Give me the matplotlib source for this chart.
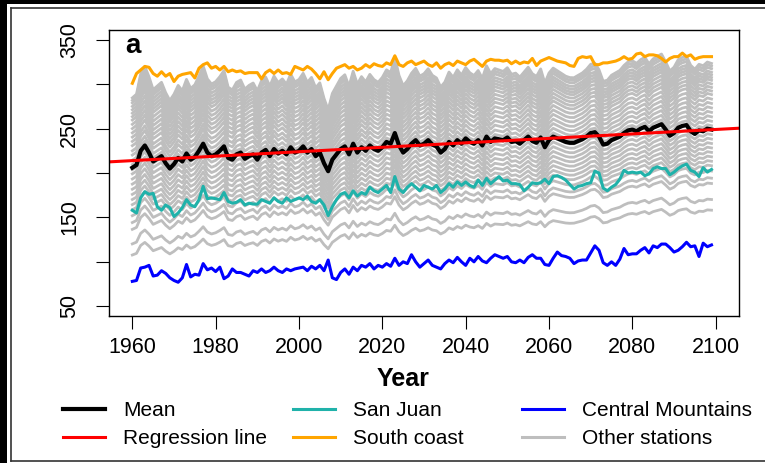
import numpy as np
import matplotlib
matplotlib.use("Agg")
import matplotlib.pyplot as plt
from matplotlib.lines import Line2D
from matplotlib.patches import Rectangle

plt.rcParams['font.family'] = ['Liberation Sans', 'DejaVu Sans']

years = np.arange(1960, 2100)

# annual totals, 1960-2099
mean_vals = [
    206, 209, 225, 231, 223, 213, 216, 219, 211, 205,
    210, 217, 213, 222, 215, 218, 225, 233, 223, 219,
    221, 225, 230, 217, 215, 221, 223, 216, 219, 221,
    215, 223, 226, 219, 227, 222, 225, 221, 229, 223,
    225, 230, 223, 227, 219, 223, 211, 202, 215, 221,
    227, 230, 221, 233, 223, 229, 225, 231, 227, 225,
    229, 235, 233, 245, 231, 223, 227, 233, 237, 231,
    233, 237, 232, 230, 223, 227, 235, 231, 237, 233,
    239, 235, 233, 237, 231, 241, 235, 239, 238, 237,
    240, 235, 236, 233, 237, 241, 236, 234, 240, 229,
    237, 241, 239, 237, 235, 234, 234, 236, 238, 241,
    245, 246, 241, 232, 233, 237, 239, 241, 245, 248,
    249, 247, 250, 252, 247, 251, 253, 255, 249, 242,
    245, 251, 253, 254, 247, 244, 248, 247, 250, 249,
]
south_coast = [
    301, 312, 316, 320, 319, 312, 309, 314, 309, 312,
    303, 309, 311, 312, 313, 307, 318, 322, 324, 318,
    320, 316, 320, 314, 316, 314, 315, 312, 313, 313,
    313, 306, 313, 316, 312, 316, 312, 313, 311, 320,
    318, 316, 320, 317, 312, 306, 314, 305, 312, 318,
    320, 322, 318, 320, 316, 318, 322, 319, 323, 321,
    320, 324, 322, 332, 322, 320, 324, 326, 322, 324,
    326, 322, 320, 324, 318, 322, 324, 321, 326, 324,
    322, 326, 328, 324, 320, 326, 328, 327, 327, 326,
    327, 323, 326, 323, 325, 324, 329, 321, 326, 328,
    330, 328, 326, 325, 324, 321, 320, 329, 331, 330,
    331, 322, 322, 324, 324, 325, 326, 328, 331, 328,
    329, 334, 335, 331, 333, 333, 332, 329, 325, 329,
    331, 331, 335, 331, 333, 328, 330, 331, 331, 331,
]
san_juan = [
    158, 155, 172, 179, 176, 177, 162, 158, 164, 161,
    151, 155, 161, 170, 164, 162, 170, 185, 171, 172,
    171, 170, 178, 168, 166, 167, 170, 164, 166, 165,
    165, 170, 168, 166, 172, 168, 166, 172, 168, 170,
    172, 170, 174, 168, 166, 170, 164, 152, 162, 170,
    176, 178, 172, 180, 174, 178, 176, 184, 180, 178,
    182, 186, 178, 196, 182, 178, 184, 188, 184, 180,
    186, 184, 182, 186, 178, 182, 188, 184, 190, 186,
    190, 186, 184, 192, 186, 194, 188, 192, 196, 191,
    192, 188, 188, 187, 180, 184, 189, 188, 189, 193,
    188, 196, 197, 195, 192, 187, 182, 185, 186, 188,
    189, 202, 200, 183, 180, 184, 187, 193, 203, 200,
    201, 200, 201, 197, 199, 205, 207, 205, 205, 198,
    201, 205, 208, 210, 203, 201, 196, 206, 201, 204,
]
central_mountains = [
    78, 79, 93, 94, 96, 84, 85, 90, 87, 82,
    79, 77, 82, 97, 83, 86, 85, 98, 91, 93,
    89, 94, 81, 84, 92, 88, 88, 86, 84, 90,
    88, 92, 88, 90, 94, 90, 88, 92, 90, 92,
    93, 94, 90, 95, 92, 96, 90, 102, 82, 80,
    88, 92, 86, 94, 90, 96, 94, 98, 92, 96,
    94, 98, 95, 104, 96, 100, 98, 108, 100, 94,
    98, 102, 96, 94, 92, 98, 102, 99, 105, 100,
    96, 104, 100, 106, 101, 99, 104, 108, 106, 104,
    106, 100, 99, 102, 99, 105, 108, 104, 104, 97,
    96, 104, 111, 107, 106, 104, 98, 101, 102, 102,
    110, 118, 113, 99, 96, 100, 96, 103, 115, 108,
    109, 109, 113, 116, 110, 118, 116, 120, 120, 116,
    111, 113, 117, 122, 117, 118, 106, 121, 117, 119,
]

# remaining stations: level in 1960 and in 2099
other_start = [112, 125, 142, 150, 158, 165, 171, 177, 183, 189,
               195, 201, 207, 212, 218, 223, 229, 234, 240, 245,
               250, 255, 260, 265, 270, 274, 278, 282, 286, 290,
               293, 296]
other_end = [158, 170, 188, 194, 202, 208, 213, 218, 223, 228,
             233, 238, 243, 248, 253, 258, 263, 268, 273, 278,
             283, 288, 292, 296, 300, 304, 307, 310, 313, 317,
             320, 323]

ytick_vals = [50, 100, 150, 200, 250, 300, 350]
ytick_labels = ['50', '', '150', '', '250', '', '350']

mean_vals = np.array(mean_vals, dtype=float)
slope, intercept = np.polyfit(years, mean_vals, 1)
anomaly = mean_vals - (slope * years + intercept)

fig = plt.figure(figsize=(7.65, 4.63), dpi=100)
ax = fig.add_axes([109 / 765, 1 - 316 / 463, 630 / 765, 286 / 463])

frac = (years - years[0]) / (years[-1] - years[0])
for s0, s1 in zip(other_start, other_end):
    level = s0 + (s1 - s0) * frac
    ax.plot(years, level + anomaly * s0 / mean_vals[0], color='#bebebe', lw=2.0,
            solid_joinstyle='round')

ax.plot(years, south_coast, color='#ffa500', lw=2.2)
ax.plot(years, san_juan, color='#20b2aa', lw=2.2)
ax.plot(years, central_mountains, color='#0000ff', lw=2.2)
ax.plot(years, mean_vals, color='black', lw=3.0)

ax.set_xlim(1954.4, 2105.6)
ax.set_ylim(39, 361)
xr = np.array(ax.get_xlim())
ax.plot(xr, slope * xr + intercept, color='#ff0000', lw=2.2)

ax.set_xticks(np.arange(1960, 2101, 20))
ax.set_yticks(ytick_vals)
ax.set_yticklabels(ytick_labels)
ax.tick_params(axis='both', direction='out', length=9.4, width=0.8, labelsize=15.5)
ax.tick_params(axis='y', pad=11.5)
ax.tick_params(axis='x', pad=5.5)
for lab in ax.get_yticklabels():
    lab.set_rotation(90)
    lab.set_va('center')
for sp in ax.spines.values():
    sp.set_linewidth(1.0)

ax.text(0.025, 0.92, 'a', transform=ax.transAxes, fontsize=20, fontweight='bold',
        va='baseline', ha='left')

fig.text(403 / 765, 1 - 379 / 463, 'Year', fontsize=18, fontweight='bold',
         ha='center', va='center')

# legend, three columns of two entries
columns = [
    [('black', 3.0, 'Mean'), ('#ff0000', 2.2, 'Regression line')],
    [('#20b2aa', 2.2, 'San Juan'), ('#ffa500', 2.2, 'South coast')],
    [('#0000ff', 2.2, 'Central Mountains'), ('#bebebe', 2.2, 'Other stations')],
]
col_x = [63, 293, 522]
for cx, entries in zip(col_x, columns):
    handles = [Line2D([], [], color=c, lw=w) for c, w, _ in entries]
    labels = [t for _, _, t in entries]
    fig.legend(handles, labels, loc='upper left',
               bbox_to_anchor=(cx / 765, 1 - 401 / 463), frameon=False,
               fontsize=15, handlelength=2.0, handletextpad=0.9,
               labelspacing=0.44, borderpad=0, borderaxespad=0)

# figure border
fig.add_artist(Rectangle((0, 0), 7 / 765, 1, transform=fig.transFigure,
                         color='black', lw=0))
fig.add_artist(Rectangle((0, 1 - 4 / 463), 1, 4 / 463, transform=fig.transFigure,
                         color='black', lw=0))
edge = dict(color='#333333', lw=1.2, transform=fig.transFigure)
fig.add_artist(Line2D([10.5 / 765] * 2, [1 - 7.5 / 463, 1 - 461 / 463], **edge))
fig.add_artist(Line2D([10.5 / 765, 1], [1 - 7.5 / 463] * 2, **edge))
fig.add_artist(Line2D([10.5 / 765, 1], [1 - 461 / 463] * 2, **edge))

fig.savefig('out.png', dpi=100)
